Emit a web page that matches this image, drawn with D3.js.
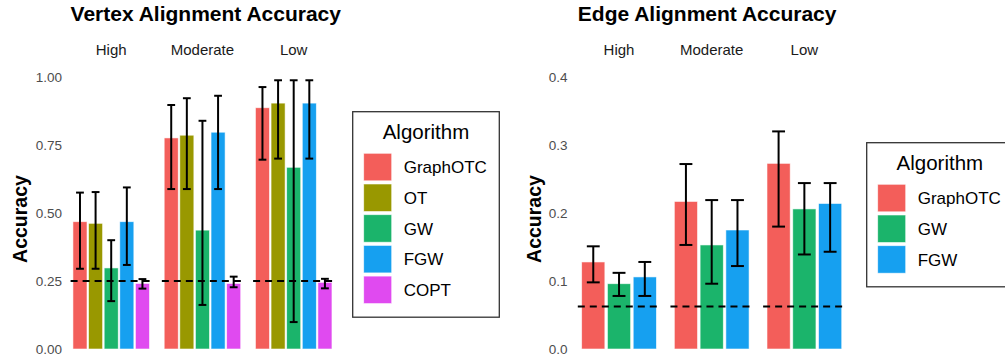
<!DOCTYPE html>
<html>
<head>
<meta charset="utf-8">
<script src="https://cdn.jsdelivr.net/npm/d3@7/dist/d3.min.js"></script>
<style>
  body { margin: 0; background: #fff; }
  text { font-family: "Liberation Sans", Arial, sans-serif; }
</style>
</head>
<body>
<div id="chart"></div>
<script>
// facets (noise level) shared by both panels
const facets = ["High", "Moderate", "Low"];

// vertex alignment: 5 algorithms, one row per facet
const vertexAlgos = ["GraphOTC", "OT", "GW", "FGW", "COPT"];
const vertexMean = [
  [0.468, 0.462, 0.298, 0.468, 0.241],
  [0.776, 0.786, 0.437, 0.797, 0.241],
  [0.887, 0.904, 0.668, 0.904, 0.245]
];
const vertexLo = [
  [0.295, 0.295, 0.176, 0.309, 0.222],
  [0.588, 0.588, 0.162, 0.588, 0.227],
  [0.696, 0.700, 0.099, 0.700, 0.223]
];
const vertexHi = [
  [0.575, 0.577, 0.400, 0.594, 0.257],
  [0.897, 0.922, 0.839, 0.931, 0.266],
  [0.963, 0.988, 0.988, 0.988, 0.258]
];
const vertexBaseline = 0.25;
const vertexTicks = [0, 0.25, 0.5, 0.75, 1];

// edge alignment: 3 algorithms
const edgeAlgos = ["GraphOTC", "GW", "FGW"];
const edgeMean = [
  [0.128, 0.096, 0.106],
  [0.217, 0.153, 0.175],
  [0.273, 0.206, 0.214]
];
const edgeLo = [
  [0.098, 0.078, 0.078],
  [0.153, 0.096, 0.122],
  [0.180, 0.139, 0.143]
];
const edgeHi = [
  [0.151, 0.112, 0.128],
  [0.272, 0.219, 0.219],
  [0.320, 0.244, 0.244]
];
const edgeBaseline = 0.0625;
const edgeTicks = [0, 0.1, 0.2, 0.3, 0.4];

const algoColors = {
  GraphOTC: "#F35E5A",
  OT: "#999800",
  GW: "#1BB46B",
  FGW: "#16A0F0",
  COPT: "#E04AF0"
};

const W = 1005, H = 358;
const svg = d3.select("#chart").append("svg")
  .attr("width", W)
  .attr("height", H);

function drawPanel(cfg) {
  const g = svg.append("g");

  const yScale = d3.scaleLinear()
    .domain(cfg.yDomain)
    .range([349, 77]);

  // facet panels
  const facetScale = d3.scaleBand()
    .domain(facets)
    .range(cfg.xRange)
    .paddingInner(0.11);

  // ggplot-like discrete x inside each facet (expand 0.6)
  const xScale = d3.scalePoint()
    .domain(cfg.algos)
    .range([0, facetScale.bandwidth()])
    .padding(0.6);
  const step = xScale.step();
  const barW = step * 0.9;
  const capW = step * 0.5;

  // title
  g.append("text")
    .attr("x", cfg.xRange[0])
    .attr("y", 21)
    .attr("font-size", 21)
    .attr("font-weight", "bold")
    .attr("fill", "#000")
    .text(cfg.title);

  // y axis title
  g.append("text")
    .attr("transform", "translate(" + cfg.yTitleX + ",219) rotate(-90)")
    .attr("text-anchor", "middle")
    .attr("font-size", 19.5)
    .attr("font-weight", "bold")
    .text("Accuracy");

  // y axis labels
  const yAxis = d3.axisLeft(yScale)
    .tickValues(cfg.ticks)
    .tickSize(0)
    .tickPadding(0)
    .tickFormat(d3.format(cfg.fmt));
  const ax = g.append("g")
    .attr("transform", "translate(" + cfg.axisX + ",0)")
    .call(yAxis);
  ax.select(".domain").remove();
  ax.selectAll("text")
    .attr("font-size", 13.5)
    .attr("fill", "#4D4D4D")
    .attr("font-family", "'Liberation Sans', Arial, sans-serif");

  facets.forEach((f, fi) => {
    const pg = g.append("g")
      .attr("transform", "translate(" + facetScale(f) + ",0)");

    // strip label
    pg.append("text")
      .attr("x", facetScale.bandwidth() / 2)
      .attr("y", 55)
      .attr("text-anchor", "middle")
      .attr("font-size", 15)
      .attr("fill", "#1A1A1A")
      .text(f);

    const rows = cfg.algos.map((a, i) => ({
      algo: a,
      mean: cfg.mean[fi][i],
      lo: cfg.lo[fi][i],
      hi: cfg.hi[fi][i]
    }));

    // bars
    pg.selectAll("rect.bar")
      .data(rows)
      .enter().append("rect")
      .attr("class", "bar")
      .attr("x", d => xScale(d.algo) - barW / 2)
      .attr("width", barW)
      .attr("y", d => yScale(d.mean))
      .attr("height", d => yScale(0) - yScale(d.mean))
      .attr("fill", d => algoColors[d.algo])
      .attr("stroke", "#fff")
      .attr("stroke-opacity", 0.7)
      .attr("stroke-width", 0.8);

    // baseline (chance level)
    pg.append("line")
      .attr("x1", 0)
      .attr("x2", facetScale.bandwidth())
      .attr("y1", yScale(cfg.baseline))
      .attr("y2", yScale(cfg.baseline))
      .attr("stroke", "#000")
      .attr("stroke-width", 2)
      .attr("stroke-dasharray", "7,5");

    // error bars
    const eb = pg.selectAll("g.eb")
      .data(rows)
      .enter().append("g")
      .attr("class", "eb")
      .attr("stroke", "#000")
      .attr("stroke-width", 2);
    eb.append("line")
      .attr("x1", d => xScale(d.algo))
      .attr("x2", d => xScale(d.algo))
      .attr("y1", d => yScale(d.lo))
      .attr("y2", d => yScale(d.hi));
    eb.append("line")
      .attr("x1", d => xScale(d.algo) - capW / 2)
      .attr("x2", d => xScale(d.algo) + capW / 2)
      .attr("y1", d => yScale(d.hi))
      .attr("y2", d => yScale(d.hi));
    eb.append("line")
      .attr("x1", d => xScale(d.algo) - capW / 2)
      .attr("x2", d => xScale(d.algo) + capW / 2)
      .attr("y1", d => yScale(d.lo))
      .attr("y2", d => yScale(d.lo));
  });

  // legend
  const lg = g.append("g")
    .attr("transform", "translate(" + cfg.legend.x + "," + cfg.legend.y + ")");
  const keyStep = 30.7;
  const boxH = 52 + cfg.algos.length * keyStep;
  lg.append("rect")
    .attr("x", 0)
    .attr("y", 0)
    .attr("width", cfg.legend.w)
    .attr("height", boxH)
    .attr("fill", "#fff")
    .attr("stroke", "#333")
    .attr("stroke-width", 1.3);
  lg.append("text")
    .attr("x", cfg.legend.w / 2)
    .attr("y", 27.5)
    .attr("text-anchor", "middle")
    .attr("font-size", 20.5)
    .text("Algorithm");
  const items = lg.selectAll("g.item")
    .data(cfg.algos)
    .enter().append("g")
    .attr("class", "item")
    .attr("transform", (d, i) => "translate(11," + (41.6 + i * keyStep) + ")");
  items.append("rect")
    .attr("width", 28)
    .attr("height", 27.5)
    .attr("fill", d => algoColors[d])
    .attr("stroke", "#fff")
    .attr("stroke-opacity", 0.7)
    .attr("stroke-width", 0.8);
  items.append("text")
    .attr("x", 40)
    .attr("y", 20)
    .attr("font-size", 17)
    .text(d => d);
}

drawPanel({
  title: "Vertex Alignment Accuracy",
  algos: vertexAlgos,
  mean: vertexMean, lo: vertexLo, hi: vertexHi,
  baseline: vertexBaseline,
  ticks: vertexTicks, fmt: ".2f",
  yDomain: [0, 1],
  xRange: [70.6, 334.3],
  axisX: 62,
  yTitleX: 26.5,
  legend: { x: 352.7, y: 111.7, w: 146.6 }
});

drawPanel({
  title: "Edge Alignment Accuracy",
  algos: edgeAlgos,
  mean: edgeMean, lo: edgeLo, hi: edgeHi,
  baseline: edgeBaseline,
  ticks: edgeTicks, fmt: ".1f",
  yDomain: [0, 0.4],
  xRange: [577.8, 845.6],
  axisX: 567.5,
  yTitleX: 540.5,
  legend: { x: 866.7, y: 142.7, w: 146.3 }
});
</script>
</body>
</html>
